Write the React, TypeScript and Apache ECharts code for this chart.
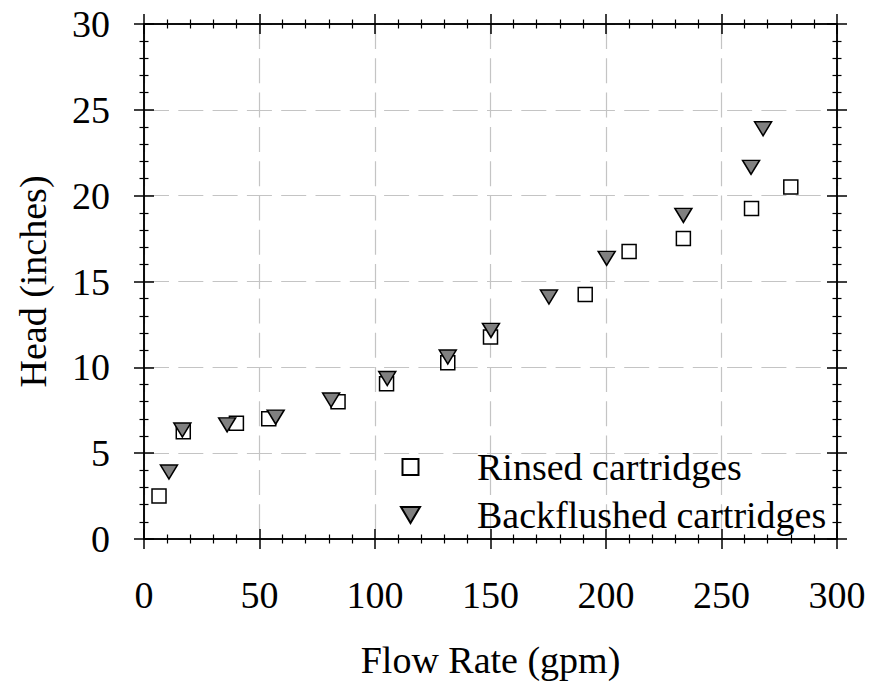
import React, { useEffect, useRef } from "react";
import * as echarts from "echarts";

const rinsedFlow = [6.5, 17, 40, 54, 84, 105, 131.5, 150, 191, 210, 233.5, 263, 280];
const rinsedHead = [2.5, 6.25, 6.75, 7.0, 8.0, 9.05, 10.27, 11.77, 14.25, 16.75, 17.5, 19.25, 20.5];
const backFlow = [10.8, 16.6, 36, 57, 81, 105.3, 131.5, 150.2, 175.3, 200.3, 233.5, 262.8, 268];
const backHead = [3.9, 6.35, 6.65, 7.1, 8.1, 9.35, 10.6, 12.15, 14.1, 16.35, 18.85, 21.65, 23.9];
const seriesNames = ["Rinsed cartridges", "Backflushed cartridges"];
const xTitle = "Flow Rate (gpm)";
const yTitle = "Head (inches)";

const FONT = "Liberation Serif";

function makeAxis(dim: "x" | "y", position: string, inside: boolean, main: boolean) {
  const isX = dim === "x";
  const ax: any = {
    type: "value",
    position,
    min: 0,
    max: isX ? 300 : 30,
    interval: isX ? 50 : 5,
    axisLine: { show: true, onZero: false, lineStyle: { color: "#000", width: 1.5 } },
    axisTick: { show: true, inside, length: 10, lineStyle: { color: "#000", width: 1.5 } },
    minorTick: { show: true, splitNumber: 5, length: 4.5, lineStyle: { color: "#000", width: 1.2 } },
    axisLabel: { show: false },
    splitLine: { show: false },
    minorSplitLine: { show: false },
  };
  if (main) {
    ax.axisLabel = {
      show: true,
      margin: isX ? 37 : 34,
      fontFamily: FONT,
      fontSize: 38,
      lineHeight: 38,
      color: "#000",
    };
    ax.splitLine = {
      show: true,
      lineStyle: { color: "#c4c4c4", width: 1.2, type: [25, 9.3] },
    };
    ax.name = isX ? xTitle : yTitle;
    ax.nameLocation = "middle";
    ax.nameGap = isX ? 102 : 92;
    ax.nameTextStyle = { fontFamily: FONT, fontSize: 38, lineHeight: 38, color: "#000" };
  }
  return ax;
}

export default function App() {
  const ref = useRef<HTMLDivElement>(null);
  useEffect(() => {
    if (!ref.current) return;
    const chart = echarts.init(ref.current, undefined, { renderer: "svg" });
    const rinsed = rinsedFlow.map((x, i) => [x, rinsedHead[i]]);
    const back = backFlow.map((x, i) => [x, backHead[i]]);
    chart.setOption({
      animation: false,
      backgroundColor: "#fff",
      grid: { left: 144, right: 40, top: 24, bottom: 151, containLabel: false },
      xAxis: [
        makeAxis("x", "bottom", false, true),
        makeAxis("x", "bottom", true, false),
        makeAxis("x", "top", false, false),
        makeAxis("x", "top", true, false),
      ],
      yAxis: [
        makeAxis("y", "left", false, true),
        makeAxis("y", "left", true, false),
        makeAxis("y", "right", false, false),
        makeAxis("y", "right", true, false),
      ],
      legend: {
        orient: "vertical",
        left: 400,
        top: 448,
        padding: 0,
        itemGap: 10,
        itemWidth: 19,
        itemHeight: 16,
        data: [
          { name: seriesNames[0], icon: "path://M0,0L16,0L16,16L0,16Z" },
          { name: seriesNames[1], icon: "path://M0,0L19,0L9.5,16Z" },
        ],
        textStyle: {
          fontFamily: FONT,
          fontSize: 38,
          lineHeight: 38,
          color: "#000",
          padding: [0, 0, 0, 52],
        },
      },
      series: [
        {
          name: seriesNames[0],
          type: "scatter",
          xAxisIndex: 0,
          yAxisIndex: 0,
          symbol: "rect",
          symbolSize: 14,
          data: rinsed,
          itemStyle: { color: "#fff", borderColor: "#000", borderWidth: 1.5, opacity: 1 },
        },
        {
          name: seriesNames[1],
          type: "scatter",
          xAxisIndex: 0,
          yAxisIndex: 0,
          symbol: "triangle",
          symbolRotate: 180,
          symbolSize: [17, 14],
          data: back,
          itemStyle: { color: "#808080", borderColor: "#000", borderWidth: 1.5, opacity: 1 },
        },
      ],
    });
    return () => chart.dispose();
  }, []);
  return (
    <div
      ref={ref}
      style={{ position: "fixed", left: 0, top: 0, width: 877, height: 690, background: "#fff" }}
    />
  );
}
